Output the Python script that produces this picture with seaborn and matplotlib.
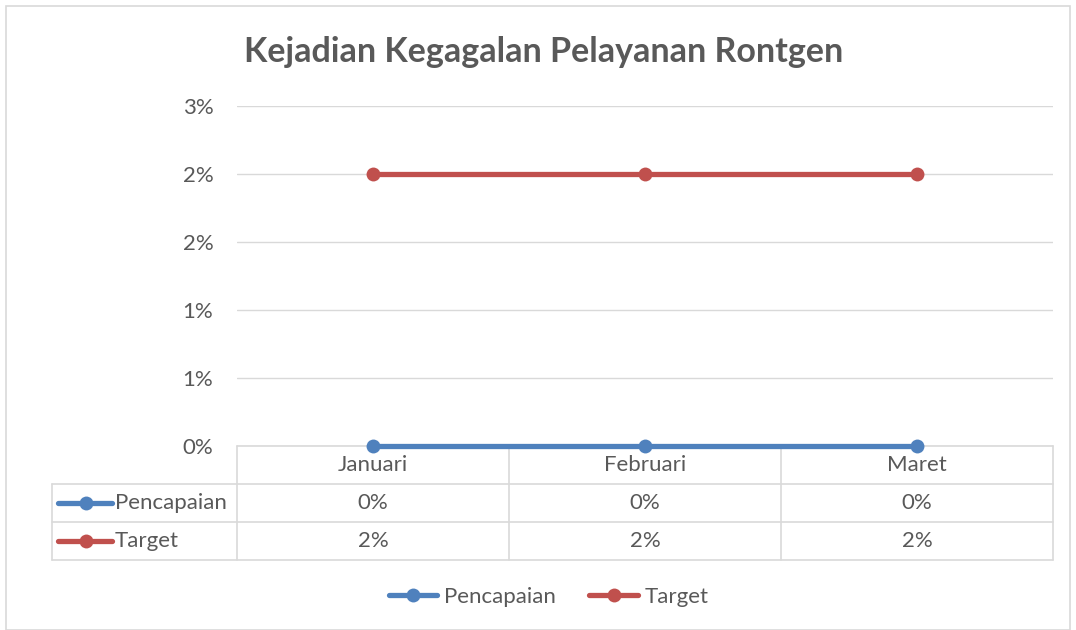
import matplotlib
matplotlib.use("Agg")
import matplotlib.pyplot as plt
import matplotlib.transforms as mtransforms
from matplotlib.lines import Line2D
from matplotlib.patches import Rectangle
import pandas as pd
import seaborn as sns

# data
months = ["Januari", "Februari", "Maret"]
pencapaian = [0.0, 0.0, 0.0]
target = [0.02, 0.02, 0.02]
series_names = ["Pencapaian", "Target"]
yticks = [0.0, 0.005, 0.01, 0.015, 0.02, 0.025]
ytick_labels = ["0%", "1%", "1%", "2%", "2%", "3%"]

colors = {"Pencapaian": "#4f81bd", "Target": "#c0504d"}
grey_text = "#595959"
grid_col = "#d9d9d9"
fs = 16

df = pd.DataFrame({
    "Bulan": months * 2,
    "Nilai": pencapaian + target,
    "Seri": ["Pencapaian"] * len(months) + ["Target"] * len(months),
})

sns.set_style("white")
plt.rcParams["font.family"] = ["Lato", "DejaVu Sans"]

fig = plt.figure(figsize=(10.76, 6.30), dpi=100)
ax = fig.add_axes([237 / 1076, 1 - 446 / 630, 816 / 1076, 340 / 630])

sns.lineplot(data=df, x="Bulan", y="Nilai", hue="Seri", palette=colors,
             hue_order=series_names, marker="o", markersize=10,
             markeredgewidth=0, linewidth=3.8, ax=ax, legend=False,
             zorder=3, clip_on=False)

ax.set_xlim(-0.5, 2.5)
ax.set_ylim(0, 0.025)
ax.set_yticks(yticks)
ax.set_yticklabels(ytick_labels)
ax.set_xticks([])
ax.set_xlabel("")
ax.set_ylabel("")
ax.tick_params(axis="y", length=0, pad=17, labelsize=fs, labelcolor=grey_text)
for s in ax.spines.values():
    s.set_visible(False)
ax.yaxis.grid(True, color=grid_col, linewidth=1)
ax.set_axisbelow(True)

ax.text((544 - 237) / 816, 1 + (106 - 52) / 340,
        "Kejadian Kegagalan Pelayanan Rontgen", transform=ax.transAxes,
        ha="center", va="center", fontsize=24.5, fontweight="bold",
        color=grey_text)

# data table under the axes (in axes fraction units)
row_h = 38 / 340
x_left = (52 - 237) / 816
tr = ax.transAxes
blend = mtransforms.blended_transform_factory(ax.transData, ax.transAxes)
lw = 1.2
# horizontal lines
ax.plot([0, 1], [0, 0], transform=tr, color=grid_col, lw=lw, clip_on=False, zorder=1)
for k in (1, 2, 3):
    ax.plot([x_left, 1], [-k * row_h, -k * row_h], transform=tr, color=grid_col,
            lw=lw, clip_on=False, zorder=1)
# vertical lines
for xb in (0, 1 / 3, 2 / 3, 1):
    ax.plot([xb, xb], [0, -3 * row_h], transform=tr, color=grid_col, lw=lw,
            clip_on=False, zorder=1)
ax.plot([x_left, x_left], [-row_h, -3 * row_h], transform=tr, color=grid_col,
        lw=lw, clip_on=False, zorder=1)

for i, m in enumerate(months):
    ax.text(i, -0.5 * row_h, m, transform=blend, ha="center", va="center",
            fontsize=fs, color=grey_text)
for r, (name, vals) in enumerate(zip(series_names, [pencapaian, target])):
    yc = -(r + 1.5) * row_h
    for i, v in enumerate(vals):
        ax.text(i, yc, f"{v * 100:.0f}%", transform=blend, ha="center",
                va="center", fontsize=fs, color=grey_text)
    ax.add_line(Line2D([(58 - 237) / 816, (112 - 237) / 816], [yc, yc],
                       transform=tr, color=colors[name], lw=3.8,
                       solid_capstyle="round", clip_on=False))
    ax.add_line(Line2D([(86 - 237) / 816], [yc], transform=tr, marker="o",
                       markersize=10, markeredgewidth=0, color=colors[name],
                       clip_on=False))
    ax.text((115 - 237) / 816, yc, name, transform=tr, ha="left", va="center",
            fontsize=fs, color=grey_text)

# legend
handles = [Line2D([], [], color=colors[n], lw=3.8, marker="o", markersize=10,
                  markeredgewidth=0, solid_capstyle="round") for n in series_names]
fig.legend(handles, series_names, loc="center", bbox_to_anchor=(0.510, 1 - 597 / 630),
           ncol=2, frameon=False, fontsize=fs, labelcolor=grey_text,
           handlelength=2.2, handletextpad=0.3, columnspacing=1.5)

# chart border
fig.patches.append(Rectangle((6 / 1076, 0), 1 - 12 / 1076, 1 - 6 / 630,
                             transform=fig.transFigure, fill=False,
                             edgecolor=grid_col, lw=1.2))

fig.savefig("out.png", dpi=100, facecolor="white")
